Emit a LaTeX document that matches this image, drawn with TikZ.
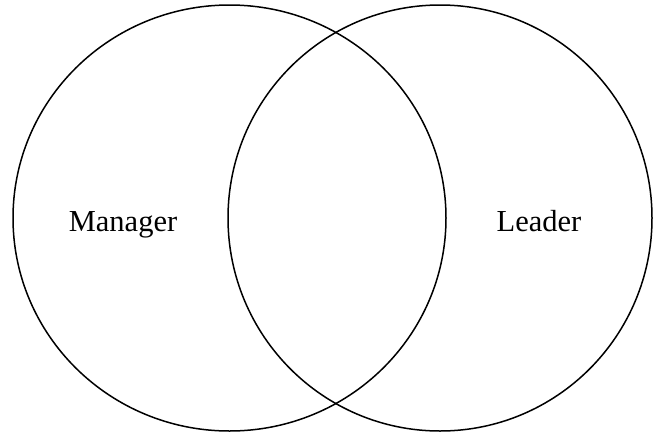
\documentclass[tikz,border=0pt]{standalone}
\usepackage{fontspec}
\setmainfont{Liberation Serif}
\begin{document}
\begin{tikzpicture}[x=1pt,y=-1pt,
  ring/.style={draw=black,line width=1.5pt},
  lbl/.style={font=\fontsize{30.5}{36}\selectfont,anchor=base,inner sep=0pt}]
\useasboundingbox (0,0) rectangle (653,434);
\draw[ring] (229.5,218) ellipse [x radius=216.5, y radius=213];
\draw[ring] (440,218) ellipse [x radius=212, y radius=213];
\node[lbl] (manager) at (123,231.5) {Manager};
\node[lbl] (leader) at (539,231.5) {Leader};
\end{tikzpicture}
\end{document}
